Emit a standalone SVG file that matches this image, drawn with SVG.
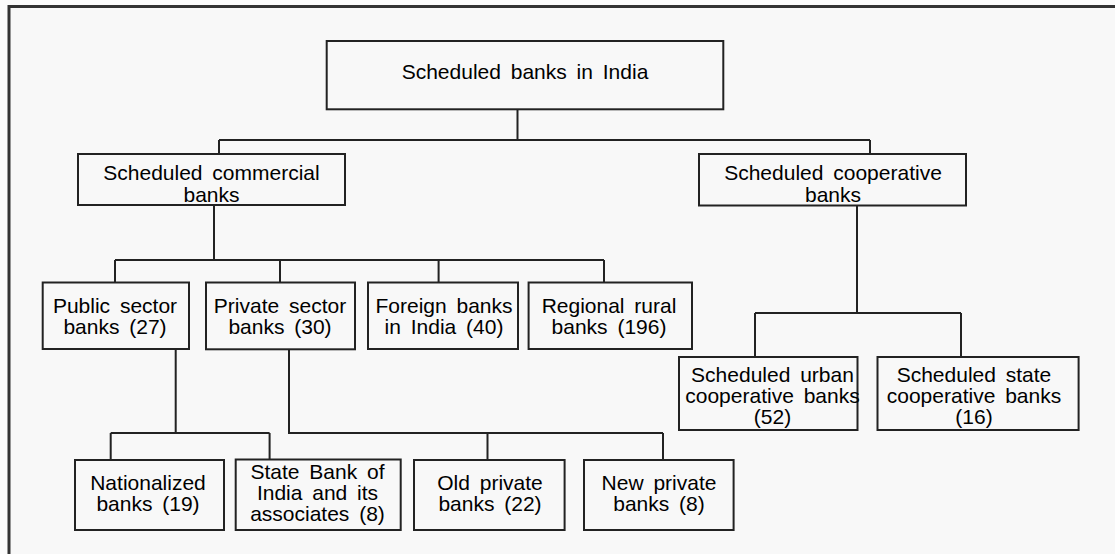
<svg xmlns="http://www.w3.org/2000/svg" width="1115" height="554" viewBox="0 0 1115 554">
<style>
.bg{fill:#f8f8f8}
.box{fill:#f8f8f8;stroke:#222;stroke-width:2}
.frame{fill:none;stroke:#333;stroke-width:3}
.ln{fill:none;stroke:#222;stroke-width:2}
text{font-family:"Liberation Sans",Arial,sans-serif;font-size:21px;fill:#000;text-anchor:middle;word-spacing:4px}
</style>
<rect x="0" y="0" width="1115" height="554" fill="#fbfbfb"/>
<rect class="bg" x="9" y="6.5" width="1106" height="548"/>
<path class="frame" d="M9,554 V6.5 H1115"/>
<g id="connectors">
<path class="ln" d="M517.5,109 V140 M219,140 H870 M219,140 V154 M870,140 V154"/>
<path class="ln" d="M214,205 V260 M115,260 H604 M115,260 V282 M280,260 V282 M438.6,260 V282 M604,260 V282"/>
<path class="ln" d="M857,206 V313 M755,313 H961 M755,313 V357 M961,313 V357"/>
<path class="ln" d="M175.7,349 V433 M110.7,433 H269.6 M110.7,433 V460 M269.6,433 V460"/>
<path class="ln" d="M289,349 V433 H663 M487.5,433 V460 M663,433 V460"/>
</g>
<g id="root"><rect class="box" x="326.7" y="41" width="396.6" height="68.3"/><text x="525" y="79">Scheduled banks in India</text></g>
<g id="commercial"><rect class="box" x="78" y="154" width="267" height="51"/><text x="211.5" y="180">Scheduled commercial</text><text x="211.5" y="201.5">banks</text></g>
<g id="cooperative"><rect class="box" x="699" y="154" width="267" height="51.5"/><text x="833" y="180">Scheduled cooperative</text><text x="833" y="201.5">banks</text></g>
<g id="public"><rect class="box" x="42.7" y="282.5" width="146.3" height="66.5"/><text x="115" y="313">Public sector</text><text x="115" y="334">banks (27)</text></g>
<g id="private"><rect class="box" x="206" y="282.5" width="149" height="66.8"/><text x="280" y="313">Private sector</text><text x="280" y="334">banks (30)</text></g>
<g id="foreign"><rect class="box" x="368" y="282.5" width="150" height="66.5"/><text x="444" y="313">Foreign banks</text><text x="444" y="334">in India (40)</text></g>
<g id="regional"><rect class="box" x="528.6" y="282.5" width="163.4" height="66.5"/><text x="609" y="313">Regional rural</text><text x="609" y="334">banks (196)</text></g>
<g id="urban"><rect class="box" x="679" y="357" width="178.5" height="73"/><text x="772.5" y="381.5">Scheduled urban</text><text x="772.5" y="402.5">cooperative banks</text><text x="772.5" y="424">(52)</text></g>
<g id="statecoop"><rect class="box" x="877.5" y="357" width="201.1" height="73"/><text x="974" y="381.5">Scheduled state</text><text x="974" y="402.5">cooperative banks</text><text x="974" y="424">(16)</text></g>
<g id="nationalized"><rect class="box" x="75" y="460" width="149" height="70"/><text x="148" y="490">Nationalized</text><text x="148" y="510.5">banks (19)</text></g>
<g id="sbi"><rect class="box" x="235.7" y="459.5" width="165" height="70.5"/><text x="317.5" y="479">State Bank of</text><text x="317.5" y="500">India and its</text><text x="317.5" y="520.5">associates (8)</text></g>
<g id="oldprivate"><rect class="box" x="414" y="460" width="150.6" height="70"/><text x="490" y="490">Old private</text><text x="490" y="510.5">banks (22)</text></g>
<g id="newprivate"><rect class="box" x="584" y="460" width="149.6" height="70"/><text x="659" y="490">New private</text><text x="659" y="510.5">banks (8)</text></g>
</svg>
